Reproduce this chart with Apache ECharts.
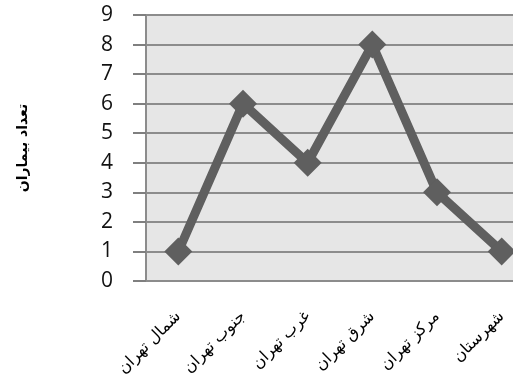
<!DOCTYPE html>
<html><head><meta charset="utf-8">
<script src="https://cdn.jsdelivr.net/npm/echarts@6/dist/echarts.min.js"></script>
<style>html,body{margin:0;padding:0;background:#fff}#c{width:513px;height:389px}</style>
</head><body><div id="c"></div>
<script>
var categories = ['شمال تهران', 'جنوب تهران', 'غرب تهران', 'شرق تهران', 'مرکز تهران', 'شهرستان'];
var values = [1, 6, 4, 8, 3, 1];
var yTicks = [0, 1, 2, 3, 4, 5, 6, 7, 8, 9];
var yName = 'تعداد بیماران';

var chart = echarts.init(document.getElementById('c'), null, {renderer: 'canvas'});
chart.setOption({
  animation: false,
  grid: {left: 146, top: 15, width: 388, height: 266, backgroundColor: '#e6e6e6', show: true, borderWidth: 0, outerBoundsMode: 'none', containLabel: false},
  xAxis: {
    type: 'category', data: categories, boundaryGap: true,
    axisLine: {lineStyle: {color: '#8c8c8c', width: 2}},
    axisTick: {show: false},
    axisLabel: {rotate: 45, margin: 33, fontFamily: 'DejaVu Sans', fontSize: 16, color: '#000', interval: 0}
  },
  yAxis: {
    type: 'value', min: yTicks[0], max: yTicks[yTicks.length - 1], interval: 1,
    name: yName, nameLocation: 'middle', nameRotate: 90, nameGap: 116,
    nameTextStyle: {fontFamily: 'DejaVu Sans', fontSize: 14, fontWeight: 'bold', color: '#000'},
    axisLine: {show: true, lineStyle: {color: '#8c8c8c', width: 2}},
    axisTick: {show: true, inside: false, length: 13, lineStyle: {color: '#7f7f7f', width: 2}},
    axisLabel: {margin: 33, fontFamily: 'Open Sans', fontSize: 21, color: '#111'},
    splitLine: {lineStyle: {color: '#8c8c8c', width: 2}}
  },
  series: [{
    type: 'line', data: values,
    symbol: 'diamond', symbolSize: 28,
    lineStyle: {color: '#5f5f5f', width: 9},
    itemStyle: {color: '#5f5f5f'}
  }]
});
</script></body></html>
